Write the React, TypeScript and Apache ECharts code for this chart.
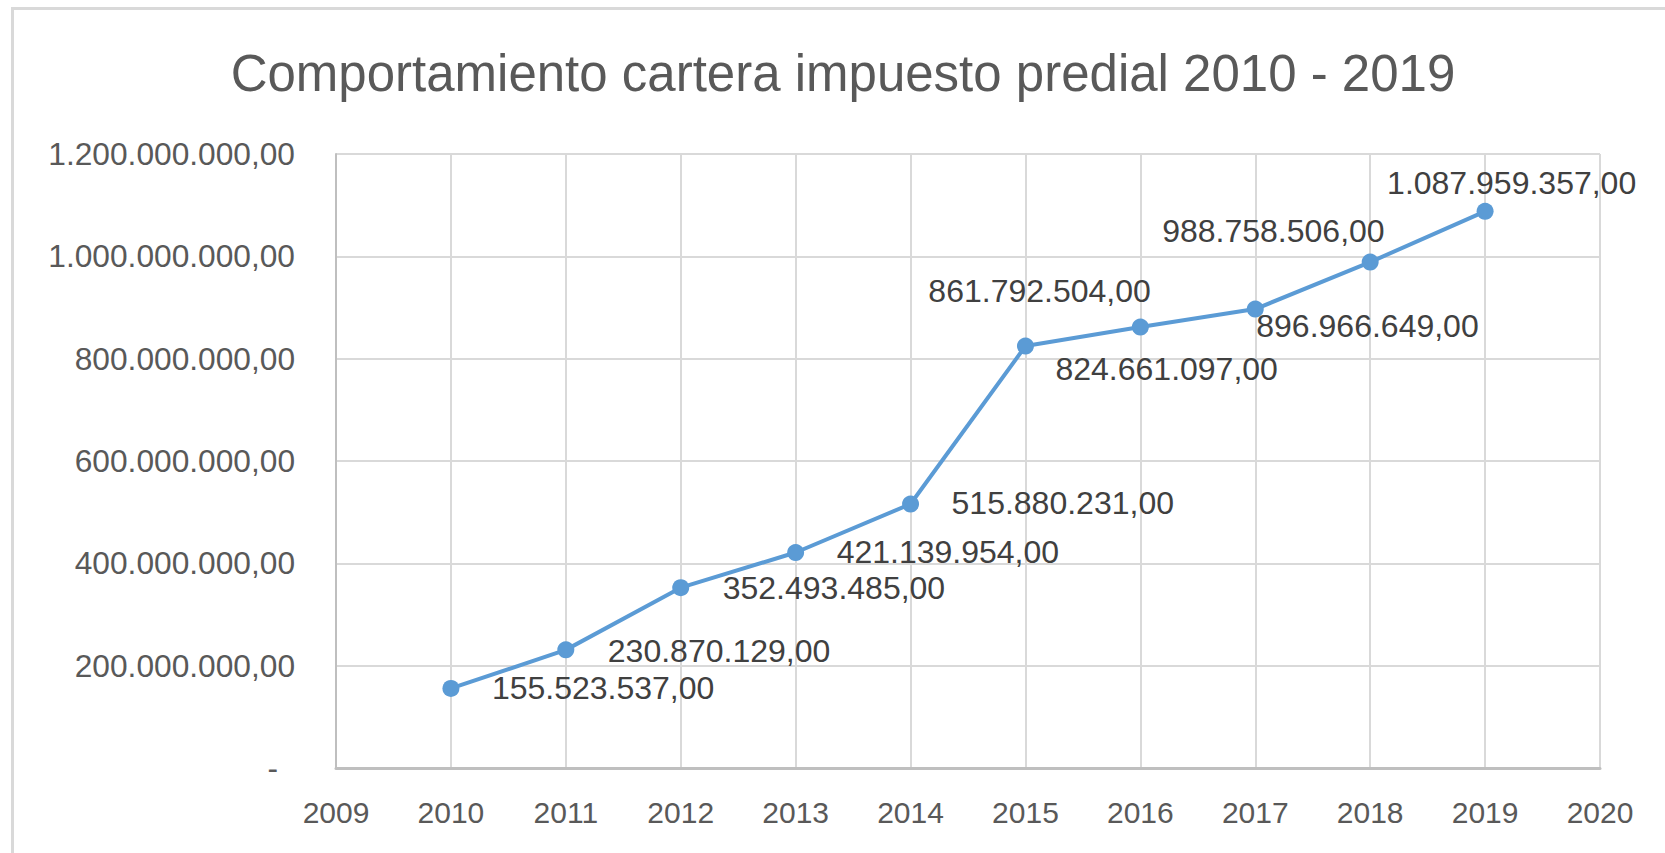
import React, { useEffect, useRef } from "react";
import * as echarts from "echarts";

const titleText = "Comportamiento cartera impuesto predial 2010 - 2019";
const years = [2010, 2011, 2012, 2013, 2014, 2015, 2016, 2017, 2018, 2019];
const values = [
  155523537, 230870129, 352493485, 421139954, 515880231, 824661097, 861792504,
  896966649, 988758506, 1087959357,
];
const xMin = 2009;
const xMax = 2020;
const yMax = 1200000000;
const yStep = 200000000;

// label placement (pixel offsets from each point, left edge / vertical centre)
const labelOffsets: number[][] = [
  [41, 0],
  [42, 1],
  [42, 0],
  [41, -1],
  [41, -1],
  [30, 23],
  [-212, -36],
  [1, 17],
  [-208, -31],
  [-98, -28],
];

const FONT = "'Liberation Sans', Arial, sans-serif";

function fmt(v: number): string {
  const s = Math.round(v).toString();
  let out = "";
  for (let i = 0; i < s.length; i++) {
    if (i > 0 && (s.length - i) % 3 === 0) out += ".";
    out += s[i];
  }
  return out + ",00";
}

export default function App() {
  const ref = useRef<HTMLDivElement>(null);
  useEffect(() => {
    if (!ref.current) return;
    const chart = echarts.init(ref.current, null, { renderer: "svg" });
    const data = years.map((y, i) => ({
      value: [y, values[i]],
      label: {
        offset: labelOffsets[i],
      },
    }));
    chart.setOption({
      animation: false,
      backgroundColor: "#ffffff",
      textStyle: { fontFamily: FONT },
      graphic: [
        {
          type: "rect",
          shape: { x: 12.5, y: 8.5, width: 1700, height: 900 },
          style: { fill: "none", stroke: "#D9D9D9", lineWidth: 3 },
          silent: true,
        },
        {
          type: "text",
          x: 843,
          y: 73,
          style: {
            text: titleText,
            font: `51px ${FONT}`,
            fill: "#595959",
            align: "center",
            verticalAlign: "middle",
          },
        },
      ],
      grid: { left: 336, top: 154, right: 65, bottom: 85, containLabel: false },
      xAxis: {
        type: "value",
        min: xMin,
        max: xMax,
        interval: 1,
        axisLine: { show: true, lineStyle: { color: "#BFBFBF", width: 3 } },
        axisTick: { show: false },
        splitLine: { show: true, lineStyle: { color: "#D9D9D9", width: 2 } },
        axisLabel: {
          color: "#595959",
          fontSize: 30,
          fontFamily: FONT,
          margin: 29,
          formatter: (v: number) => String(v),
        },
      },
      yAxis: {
        type: "value",
        min: 0,
        max: yMax,
        interval: yStep,
        axisLine: { show: true, lineStyle: { color: "#BFBFBF", width: 2 } },
        axisTick: { show: false },
        splitLine: { show: true, lineStyle: { color: "#D9D9D9", width: 2 } },
        axisLabel: {
          color: "#595959",
          fontSize: 31.7,
          fontFamily: FONT,
          margin: 41,
          formatter: (v: number) => (v === 0 ? "{d|-}" : fmt(v)),
          rich: {
            d: {
              fontSize: 31.7,
              fontFamily: FONT,
              color: "#595959",
              padding: [0, 17, 0, 0],
            },
          },
        },
      },
      series: [
        {
          type: "line",
          data,
          symbol: "circle",
          symbolSize: 17,
          itemStyle: { color: "#5B9BD5" },
          lineStyle: { color: "#5B9BD5", width: 4 },
          label: {
            show: true,
            position: "inside",
            align: "left",
            verticalAlign: "middle",
            color: "#404040",
            fontSize: 32,
            fontFamily: FONT,
            formatter: (p: any) => fmt(p.value[1]),
          },
        },
      ],
    });
    return () => chart.dispose();
  }, []);
  return (
    <div
      ref={ref}
      style={{ position: "absolute", left: 0, top: 0, width: 1665, height: 853 }}
    />
  );
}
